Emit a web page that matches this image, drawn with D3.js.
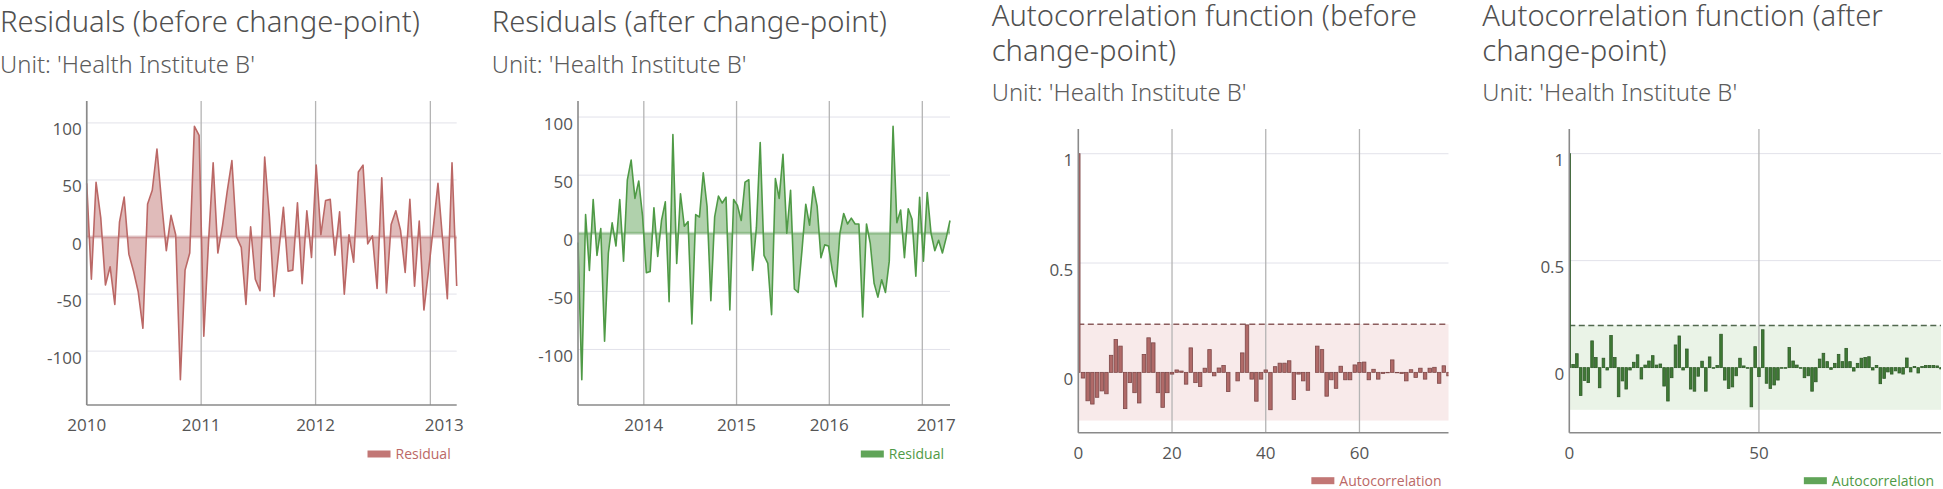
<!DOCTYPE html>
<html><head><meta charset="utf-8">
<script src="https://cdn.jsdelivr.net/npm/d3@7"></script>
<style>
body{margin:0;background:#fff;overflow:hidden}
svg{display:block}
text{font-family:"Open Sans","Noto Sans",sans-serif}
.hd{font-family:"Noto Sans","Open Sans",sans-serif;font-weight:300}
</style></head><body>
<svg id="c" width="1943" height="489"></svg>
<script>
// ---------------- DATA ----------------
const residualsBefore = [47,-37,48,17,-42,-26,-59,13,35,-15,-30,-48,-80,29,41,77,30,-12,19,2,
  -125,-29,-14,97,89,-87,-5,65,-14,10,40,67,0,-9,-59,9,-37,-47,70,18,
  -52,-13,26,-30,-29,30,-41,23,-18,63,2,32,33,-16,22,-50,2,-22,57,63,
  -6,1,-45,52,-49,11,23,6,-31,33,-43,14,-64,-29,8,47,-3,-54,65,-43];
const residualsAfter = [-8,-126,16,-32,29,-19,4,-93,-17,9,-11,29,-24,46,63,30,45,15,-34,-33,
  22,-20,11,27,-59,85,-26,34,6,10,-78,16,14,52,23,-58,14,32,26,31,
  -66,29,24,11,44,46,-32,5,78,-19,-26,-70,47,30,68,0,37,-48,-51,-15,
  25,7,40,23,-21,-10,-11,-32,-46,0,17,8,13,8,8,-72,8,-9,-43,-55,
  -40,-51,-24,92,9,20,-21,21,12,-37,31,-24,35,0,-15,-6,-17,-4,11];
const datesBefore = ["2010-01-01","2013-03-26"];   // first / last observation
const datesAfter  = ["2013-04-17","2017-04-20"];
const acfBefore = [1,-0.026,-0.13,-0.145,-0.114,-0.085,-0.098,0.078,0.15,0.12,
  -0.166,-0.047,-0.093,-0.14,0.082,0.158,0.135,-0.093,-0.16,-0.093,
  -0.008,0.011,0.006,-0.054,0.112,-0.047,-0.065,0.019,0.104,-0.016,
  0.02,0.031,-0.088,0,-0.039,0.089,0.217,-0.031,-0.132,-0.031,
  0.011,-0.171,0.026,0.042,0.042,0.053,-0.124,-0.008,-0.039,-0.082,
  0,0.12,0.104,-0.109,-0.034,-0.073,0.028,-0.034,-0.034,0.034,
  0.045,0.047,-0.034,0.014,-0.031,-0.005,-0.002,0.057,-0.002,-0.005,
  -0.039,0.012,-0.023,0.019,-0.031,0.019,0.023,-0.05,0.03,-0.016];
const acfAfter = [1,0.015,0.065,-0.13,-0.06,-0.07,0.125,0.047,-0.094,0.044,
  -0.011,0.15,0.047,-0.136,-0.062,-0.1,-0.011,0.025,0.06,-0.053,
  0.012,0.031,0.056,0.012,0.017,-0.086,-0.156,-0.047,0.106,0.148,
  -0.011,0.087,-0.1,-0.11,-0.04,0.03,-0.11,0.05,-0.003,0.01,
  0.156,-0.058,-0.097,-0.09,-0.038,0.044,0.008,-0.003,-0.183,0.098,
  -0.042,0.177,-0.073,-0.097,-0.081,-0.058,-0.003,-0.003,0.094,0.031,
  0.012,-0.003,-0.047,-0.038,-0.11,-0.066,0.04,0.067,0.028,-0.008,
  0.02,0.062,0.028,0.09,0.028,-0.016,0.02,0.044,0.047,0.051,
  -0.011,0.01,-0.075,-0.05,-0.02,-0.03,-0.015,-0.025,-0.03,0.045,
  -0.02,0.005,-0.025,0.005,0.01,0.01,0.01,0.008,-0.006];
const confBefore = 0.2205, confAfter = 0.197;
const yearTicksBefore = [2010,2011,2012,2013];
const yearTicksAfter = [2014,2015,2016,2017];
const residualYTicks = [-100,-50,0,50,100];
const acfYTicks = [0,0.5,1];
const lagTicksBefore = [0,20,40,60];
const lagTicksAfter = [0,50];
const titles = [["Residuals (before change-point)"],["Residuals (after change-point)"],
  ["Autocorrelation function (before","change-point)"],["Autocorrelation function (after","change-point)"]];
const subtitle = "Unit: 'Health Institute B'";
const legendLabels = ["Residual","Residual","Autocorrelation","Autocorrelation"];

// ---------------- STYLE / LAYOUT ----------------
const RED = "#bb6866", GREEN = "#4f9a46";
const svg = d3.select("#c");
const defs = svg.append("defs");
const parse = d3.timeParse("%Y-%m-%d");

// fit header font sizes to the reference widths
function fitSize(str, target){
  const t = svg.append("text").attr("class","hd").style("font-size","30px").text(str);
  const w = t.node().getComputedTextLength(); t.remove();
  return 30*target/w;
}
const TITLE_SIZE = fitSize(titles[0][0], 420);
const SUB_SIZE = fitSize(subtitle, 255);

function header(i, x0, titleYs, subY){
  const t = svg.append("text").attr("class","hd").attr("x",x0).attr("fill","#505050")
    .style("font-size",TITLE_SIZE+"px");
  titles[i].forEach((s,k)=> t.append("tspan").attr("x",x0).attr("y",titleYs[k]).text(s));
  svg.append("text").attr("class","hd").attr("x",x0).attr("y",subY).attr("fill","#5c5c5c")
    .style("font-size",SUB_SIZE+"px").text(subtitle);
}
function legend(label, color, rightX, y){
  const g = svg.append("g");
  const tx = g.append("text").attr("y",y+5).attr("fill",color).style("font-size","14px").text(label);
  const w = tx.node().getComputedTextLength();
  tx.attr("x", rightX - w);
  g.append("rect").attr("x",rightX - w - 28).attr("y",y-3.5).attr("width",23).attr("height",7)
    .attr("fill",color).attr("opacity",0.9);
}
function frame(p){
  svg.append("line").attr("x1",p.l).attr("x2",p.l).attr("y1",p.t).attr("y2",p.b)
    .attr("stroke","#8a8a8a").attr("stroke-width",1.6);
  svg.append("line").attr("x1",p.l).attr("x2",p.r).attr("y1",p.b).attr("y2",p.b)
    .attr("stroke","#8a8a8a").attr("stroke-width",1.6);
}

function residualPanel(i, values, range, yearTicks, p, color, x0){
  header(i, x0, [32], 73);
  const d0 = parse(range[0]), d1 = parse(range[1]);
  const n = values.length;
  const pts = values.map((v,k)=>({date:new Date(+d0 + (d1-d0)*k/(n-1)), v}));
  const x = d3.scaleTime().domain([d0,d1]).range([p.l,p.r]);
  const [mn,mx] = d3.extent(values); const pad = (mx-mn)*0.1;
  const y = d3.scaleLinear().domain([mn-pad, mx+pad]).range([p.b,p.t]);
  const g = svg.append("g");
  g.selectAll(".hg").data(residualYTicks).join("line")
    .attr("x1",p.l).attr("x2",p.r).attr("y1",d=>y(d)).attr("y2",d=>y(d))
    .attr("stroke","#e2e2ea").attr("stroke-width",1);
  const yt = yearTicks.map(t=>new Date(t,0,1));
  g.selectAll(".vg").data(yt).join("line")
    .attr("x1",d=>x(d)).attr("x2",d=>x(d)).attr("y1",p.t).attr("y2",p.b)
    .attr("stroke","#b4b4b4").attr("stroke-width",1.3);
  g.append("path").datum(pts).attr("fill",color).attr("fill-opacity",0.45)
    .attr("d",d3.area().x(d=>x(d.date)).y0(y(0)).y1(d=>y(d.v)));
  g.append("line").attr("x1",p.l).attr("x2",p.r).attr("y1",y(0)).attr("y2",y(0))
    .attr("stroke",color).attr("stroke-opacity",0.35).attr("stroke-width",3);
  g.append("path").datum(pts).attr("fill","none").attr("stroke",color).attr("stroke-width",1.6)
    .attr("stroke-linejoin","round")
    .attr("d",d3.line().x(d=>x(d.date)).y(d=>y(d.v)));
  frame(p);
  g.selectAll(".yl").data(residualYTicks).join("text")
    .attr("x",p.l-5).attr("y",d=>y(d)+12.5).attr("text-anchor","end")
    .attr("fill","#555").style("font-size","17px").text(d=>d);
  yt.forEach((d,k)=>{
    const last = k===yt.length-1;
    svg.append("text").attr("x", last ? x(d)-5.5 : x(d)).attr("y",p.b+26)
      .attr("text-anchor", last ? "start" : "middle")
      .attr("fill","#555").style("font-size","17px").text(yearTicks[k]);
  });
  legend(legendLabels[i], color, p.r-6, p.b+49);
}

function acfPanel(i, values, conf, lagTicks, p, color, dark, band, dash, domainY, x0){
  header(i, x0, [26,61], 101);
  const n = values.length;
  const x = d3.scaleLinear().domain([0,n-1]).range([p.l,p.r]);
  const y = d3.scaleLinear().domain(domainY).range([p.b,p.t]);
  const step = x(1)-x(0);
  const cid = "clip"+i;
  defs.append("clipPath").attr("id",cid).append("rect")
    .attr("x",p.l).attr("y",p.t).attr("width",p.r-p.l).attr("height",p.b-p.t);
  const g = svg.append("g");
  g.append("rect").attr("x",p.l).attr("width",p.r-p.l).attr("y",y(conf)).attr("height",y(-conf)-y(conf))
    .attr("fill",band);
  g.selectAll(".hg").data(acfYTicks.filter(d=>d!==0)).join("line")
    .attr("x1",p.l).attr("x2",p.r).attr("y1",d=>y(d)).attr("y2",d=>y(d))
    .attr("stroke","#e2e2ea").attr("stroke-width",1);
  g.selectAll(".vg").data(lagTicks.filter(d=>d!==0)).join("line")
    .attr("x1",d=>x(d)).attr("x2",d=>x(d)).attr("y1",p.t).attr("y2",p.b)
    .attr("stroke","#b4b4b4").attr("stroke-width",1.3);
  g.append("line").attr("x1",p.l).attr("x2",p.r).attr("y1",y(conf)).attr("y2",y(conf))
    .attr("stroke",dash).attr("stroke-width",1.5).attr("stroke-dasharray","6,3.5");
  const bw = step-1.2;
  g.append("g").attr("clip-path",`url(#${cid})`).selectAll("rect").data(values).join("rect")
    .attr("x",(d,k)=>x(k)-bw/2).attr("width",bw)
    .attr("y",d=>y(Math.max(0,d))).attr("height",d=>Math.abs(y(d)-y(0)))
    .attr("fill",color).attr("stroke",dark).attr("stroke-width",0.8);
  frame(p);
  g.selectAll(".yl").data(acfYTicks).join("text")
    .attr("x",p.l-5).attr("y",d=>y(d)+12.5).attr("text-anchor","end")
    .attr("fill","#555").style("font-size","17px").text(d=>d);
  g.selectAll(".xl").data(lagTicks).join("text")
    .attr("x",d=>x(d)).attr("y",p.b+26.5).attr("text-anchor","middle")
    .attr("fill","#555").style("font-size","17px").text(d=>d);
  legend(legendLabels[i], i===2?RED:GREEN, p.r-7, p.b+48);
}

residualPanel(0, residualsBefore, datesBefore, yearTicksBefore, {l:86.7,r:456.7,t:101,b:405}, RED, 0);
residualPanel(1, residualsAfter, datesAfter, yearTicksAfter, {l:578,r:950,t:101,b:405}, GREEN, 491.7);
acfPanel(2, acfBefore, confBefore, lagTicksBefore, {l:1078.3,r:1448.5,t:129,b:432.7},
  "#b06a68","#7d4848","#f8eaea","#8b5d5d",[-0.276,1.113], 991.7);
acfPanel(3, acfAfter, confAfter, lagTicksAfter, {l:1569.3,r:1941,t:129,b:432.7},
  "#3f7a35","#2f5a28","#eaf3e7","#52684f",[-0.304,1.115], 1482.3);
</script></body></html>
